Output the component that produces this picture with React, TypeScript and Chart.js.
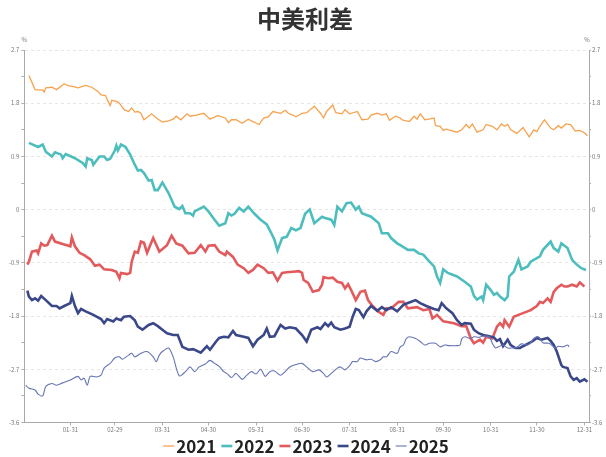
import React, { useEffect, useRef } from "react";
import { Chart, registerables } from "chart.js";

Chart.register(...registerables);

const TITLE = "中美利差";
const UNIT = "%";
const seriesNames = ["2021", "2022", "2023", "2024", "2025"];

// x positions are day-of-year indexes (leap-year calendar, 0 = 01-01)
const monthEndDays = [30, 59, 90, 120, 151, 181, 212, 243, 273, 304, 334, 365];
const monthEndLabels = ["01-31", "02-29", "03-31", "04-30", "05-31", "06-30", "07-31", "08-31", "09-30", "10-31", "11-30", "12-31"];

const yTickValues = [2.7, 2.25, 1.8, 1.35, 0.9, 0.45, 0, -0.45, -0.9, -1.35, -1.8, -2.25, -2.7, -3.15, -3.6];
const yTickLabels = ["2.7", "", "1.8", "", "0.9", "", "0", "", "-0.9", "", "-1.8", "", "-2.7", "", "-3.6"];

const days2021 = [3,7,12,13,14,18,21,26,28,32,35,40,44,48,50,53,54,56,57,60,62,65,68,70,72,74,76,78,83,86,90,94,97,99,102,106,108,112,117,121,126,131,133,135,138,142,146,148,153,156,159,162,167,170,172,175,177,181,184,189,193,195,197,201,203,207,209,212,217,220,224,226,230,233,236,238,242,245,246,249,251,254,256,258,261,267,268,271,273,275,282,285,288,290,292,295,299,301,305,308,311,313,315,317,321,325,329,332,334,336,339,343,345,348,350,353,356,359,362,365,367];
const vals2021 = [2.27,2.03,2.02,1.99,2.06,2.07,2.03,2.13,2.10,2.08,2.06,2.10,2.07,2.00,1.94,1.93,1.86,1.76,1.85,1.83,1.80,1.69,1.66,1.72,1.65,1.66,1.63,1.52,1.62,1.55,1.48,1.50,1.53,1.58,1.52,1.62,1.58,1.60,1.63,1.53,1.59,1.55,1.47,1.52,1.52,1.46,1.53,1.50,1.44,1.55,1.57,1.66,1.63,1.68,1.63,1.60,1.57,1.63,1.64,1.75,1.63,1.55,1.66,1.77,1.64,1.62,1.69,1.62,1.66,1.52,1.53,1.60,1.63,1.60,1.62,1.51,1.58,1.55,1.52,1.50,1.49,1.58,1.53,1.62,1.52,1.55,1.42,1.41,1.34,1.36,1.31,1.35,1.44,1.38,1.45,1.31,1.35,1.44,1.41,1.35,1.45,1.41,1.44,1.35,1.29,1.39,1.23,1.35,1.32,1.41,1.52,1.38,1.35,1.42,1.38,1.45,1.44,1.33,1.34,1.30,1.25];

const days2022 = [3,9,12,14,18,20,24,25,27,33,38,40,41,44,45,49,52,54,56,59,60,61,63,66,69,72,74,76,78,81,83,85,87,90,94,98,101,103,105,108,110,111,117,120,124,127,131,133,135,137,140,143,146,150,154,158,161,163,165,168,171,174,177,180,183,186,189,194,196,200,202,204,207,210,213,216,218,220,223,226,231,233,237,239,243,245,250,254,257,260,263,267,269,271,273,276,282,287,291,293,295,298,299,301,304,306,308,310,313,315,316,319,322,324,328,330,334,336,338,343,345,348,350,354,357,360,363,366];
const vals2022 = [1.13,1.06,1.10,0.98,0.90,0.97,0.93,0.87,0.94,0.87,0.79,0.73,0.87,0.84,0.76,0.90,0.90,0.84,0.86,1.00,1.08,1.00,1.10,1.06,0.93,0.76,0.66,0.67,0.62,0.49,0.50,0.33,0.33,0.46,0.28,0.05,0.01,0.06,-0.06,-0.06,-0.10,-0.03,0.05,-0.03,-0.17,-0.27,-0.23,-0.06,-0.10,-0.07,0.03,-0.03,0.05,-0.07,-0.17,-0.25,-0.40,-0.51,-0.69,-0.48,-0.46,-0.31,-0.35,-0.31,-0.07,0.00,-0.23,-0.12,-0.14,-0.17,-0.26,0.05,-0.03,0.11,0.12,0.00,0.05,-0.06,-0.09,-0.12,-0.23,-0.40,-0.40,-0.48,-0.57,-0.60,-0.68,-0.68,-0.74,-0.76,-0.85,-0.96,-1.13,-1.24,-1.01,-1.07,-1.13,-1.22,-1.30,-1.46,-1.52,-1.47,-1.53,-1.27,-1.36,-1.44,-1.41,-1.47,-1.53,-1.47,-1.13,-1.05,-0.85,-1.01,-0.96,-0.88,-0.82,-0.79,-0.68,-0.54,-0.65,-0.71,-0.57,-0.65,-0.85,-0.93,-0.99,-1.02];

const days2023 = [2,3,5,8,9,11,13,15,18,20,25,30,31,33,36,39,43,46,49,52,57,60,62,63,67,69,70,72,74,76,78,80,84,88,93,96,99,103,107,111,115,118,120,124,127,131,132,136,139,143,146,149,152,156,159,162,165,168,171,175,179,181,182,185,188,192,194,195,198,201,204,207,209,211,213,216,219,222,224,227,231,234,236,239,244,247,250,256,260,264,266,269,273,280,285,288,291,293,297,299,301,305,308,310,312,313,316,319,322,325,330,334,336,338,341,343,345,347,350,352,354,357,360,362,365];
const vals2023 = [-0.93,-0.88,-0.71,-0.69,-0.74,-0.57,-0.61,-0.60,-0.44,-0.54,-0.58,-0.62,-0.47,-0.62,-0.73,-0.77,-0.84,-0.95,-0.93,-1.01,-1.02,-1.05,-1.16,-1.07,-1.09,-1.07,-0.88,-0.71,-0.73,-0.54,-0.56,-0.73,-0.48,-0.71,-0.60,-0.44,-0.57,-0.61,-0.74,-0.73,-0.60,-0.71,-0.61,-0.60,-0.71,-0.77,-0.71,-0.80,-0.93,-0.99,-1.07,-1.02,-0.93,-0.99,-1.07,-1.06,-1.20,-1.07,-1.06,-1.05,-1.04,-1.07,-1.19,-1.24,-1.39,-1.36,-1.27,-1.14,-1.16,-1.15,-1.22,-1.24,-1.33,-1.26,-1.36,-1.53,-1.39,-1.37,-1.53,-1.63,-1.73,-1.78,-1.67,-1.67,-1.56,-1.56,-1.67,-1.65,-1.70,-1.68,-1.84,-1.78,-1.89,-1.92,-1.97,-1.97,-2.18,-2.26,-2.20,-2.25,-2.15,-2.18,-1.98,-1.92,-1.98,-1.87,-1.98,-1.81,-1.78,-1.75,-1.70,-1.63,-1.56,-1.58,-1.50,-1.56,-1.39,-1.33,-1.27,-1.30,-1.30,-1.27,-1.30,-1.23,-1.30];

const days2024 = [2,3,5,7,9,11,14,18,21,23,26,30,31,33,35,37,40,45,50,52,54,58,60,63,65,69,72,74,77,81,84,87,90,93,97,100,103,107,110,115,119,121,125,127,130,133,136,138,143,146,149,152,156,158,160,163,167,170,173,177,181,184,187,191,193,196,198,200,202,206,209,212,214,216,218,221,223,226,230,233,236,239,243,247,250,255,258,262,267,270,272,275,279,282,285,287,291,293,296,299,303,306,308,310,312,315,317,320,323,325,328,331,334,337,341,343,345,347,350,351,354,356,358,360,362,365,367];
const vals2024 = [-1.37,-1.47,-1.53,-1.50,-1.54,-1.46,-1.53,-1.63,-1.63,-1.67,-1.63,-1.58,-1.46,-1.63,-1.75,-1.68,-1.72,-1.78,-1.85,-1.92,-1.85,-1.89,-1.84,-1.87,-1.81,-1.80,-1.87,-1.98,-2.03,-1.95,-1.92,-1.97,-2.03,-2.09,-2.12,-2.12,-2.32,-2.37,-2.36,-2.42,-2.31,-2.37,-2.23,-2.17,-2.15,-2.16,-2.05,-2.12,-2.15,-2.17,-2.31,-2.20,-2.12,-2.01,-2.15,-2.14,-1.95,-2.01,-1.99,-2.01,-2.12,-2.23,-2.03,-1.99,-2.02,-1.92,-1.97,-1.91,-1.99,-2.03,-2.01,-1.98,-1.81,-1.68,-1.70,-1.82,-1.72,-1.63,-1.71,-1.65,-1.70,-1.65,-1.72,-1.61,-1.58,-1.53,-1.58,-1.63,-1.68,-1.70,-1.58,-1.67,-1.75,-1.87,-1.95,-1.92,-1.93,-2.03,-2.09,-2.12,-2.14,-2.16,-2.22,-2.19,-2.31,-2.20,-2.29,-2.34,-2.34,-2.31,-2.27,-2.23,-2.17,-2.20,-2.17,-2.22,-2.29,-2.40,-2.63,-2.66,-2.68,-2.82,-2.88,-2.85,-2.91,-2.87,-2.91];

const days2025 = [1,3,7,9,12,14,18,21,25,30,35,37,39,41,43,47,50,52,56,59,62,64,68,70,72,76,80,84,86,88,90,94,97,101,105,108,111,114,118,121,124,127,130,132,135,138,142,145,148,151,154,157,160,163,167,170,173,177,181,184,188,192,195,197,200,204,206,209,212,214,217,219,223,226,229,232,234,236,239,243,245,247,249,251,255,258,261,264,268,271,274,277,282,284,285,287,291,293,296,299,303,305,307,309,312,315,318,321,324,328,330,332,335,338,342,344,346,348,351,354,355];
const vals2025 = [-2.97,-3.02,-3.05,-3.12,-3.15,-2.99,-2.94,-2.97,-2.93,-2.88,-2.82,-2.88,-2.85,-2.97,-2.82,-2.83,-2.80,-2.68,-2.60,-2.51,-2.49,-2.53,-2.46,-2.43,-2.49,-2.43,-2.40,-2.49,-2.57,-2.46,-2.40,-2.34,-2.49,-2.81,-2.74,-2.66,-2.74,-2.66,-2.61,-2.55,-2.60,-2.65,-2.74,-2.77,-2.84,-2.77,-2.87,-2.80,-2.74,-2.78,-2.70,-2.82,-2.74,-2.73,-2.80,-2.74,-2.66,-2.62,-2.60,-2.66,-2.74,-2.71,-2.77,-2.83,-2.77,-2.68,-2.66,-2.71,-2.64,-2.57,-2.57,-2.51,-2.54,-2.53,-2.57,-2.54,-2.49,-2.49,-2.40,-2.43,-2.32,-2.29,-2.18,-2.15,-2.18,-2.23,-2.29,-2.26,-2.26,-2.32,-2.29,-2.30,-2.30,-2.29,-2.19,-2.15,-2.18,-2.15,-2.16,-2.14,-2.15,-2.26,-2.34,-2.32,-2.29,-2.34,-2.34,-2.33,-2.27,-2.29,-2.25,-2.18,-2.15,-2.25,-2.26,-2.30,-2.34,-2.31,-2.32,-2.29,-2.32];

const seriesDays = [days2021, days2022, days2023, days2024, days2025];
const seriesVals = [vals2021, vals2022, vals2023, vals2024, vals2025];

const COLORS = ["#f7a24d", "#4ebdbd", "#e25a5c", "#3a4889", "#6674b4"];
const WIDTHS = [1.3, 2.6, 2.6, 2.6, 1.1];
const TENSIONS = [0, 0, 0, 0, 0.3];

const FONT = "'Noto Sans CJK SC', 'Noto Sans', sans-serif";

function toPoints(d: number[], v: number[]) {
  const n = Math.min(d.length, v.length);
  const out: { x: number; y: number }[] = [];
  for (let i = 0; i < n; i++) out.push({ x: d[i], y: v[i] });
  return out;
}

const overlayPlugin = {
  id: "overlay",
  afterDraw(chart: any) {
    const ctx = chart.ctx as CanvasRenderingContext2D;
    const { left, right, top } = chart.chartArea;
    ctx.save();
    // title
    ctx.font = `bold 24px ${FONT}`;
    ctx.fillStyle = "#333";
    ctx.textAlign = "center";
    ctx.textBaseline = "middle";
    ctx.fillText(TITLE, 305, 19);
    // units
    ctx.font = `6px ${FONT}`;
    ctx.fillStyle = "#777";
    ctx.fillText(UNIT, left, top - 10);
    ctx.fillText(UNIT, right - 2, top - 10);
    // legend
    const ds = chart.data.datasets;
    ctx.font = `bold 17px ${FONT}`;
    const markerW = 11;
    const gap1 = 2;
    const gap2 = 5;
    const ws = ds.map((d: any) => markerW + gap1 + ctx.measureText(d.label).width);
    const total = ws.reduce((a: number, b: number) => a + b, 0) + gap2 * (ds.length - 1);
    let x = 306 - total / 2;
    const y = 446;
    ds.forEach((d: any, i: number) => {
      ctx.beginPath();
      ctx.strokeStyle = d.borderColor;
      ctx.lineWidth = d.borderWidth;
      ctx.moveTo(x, y);
      ctx.lineTo(x + markerW, y);
      ctx.stroke();
      ctx.fillStyle = "#222";
      ctx.textAlign = "left";
      ctx.textBaseline = "middle";
      ctx.fillText(d.label, x + markerW + gap1, y + 1);
      x += ws[i] + gap2;
    });
    ctx.restore();
  },
};

export default function App() {
  const ref = useRef<HTMLCanvasElement | null>(null);

  useEffect(() => {
    if (!ref.current) return;
    const datasets = seriesNames.map((name, i) => ({
      label: name,
      data: toPoints(seriesDays[i], seriesVals[i]),
      borderColor: COLORS[i],
      backgroundColor: COLORS[i],
      borderWidth: WIDTHS[i],
      pointRadius: 0,
      tension: TENSIONS[i],
      fill: false,
      order: seriesNames.length - i,
    }));

    const yCommon = (position: "left" | "right", width: number, isLeft: boolean) => ({
      type: "linear" as const,
      position,
      min: -3.6,
      max: 2.7,
      afterBuildTicks: (s: any) => {
        s.ticks = yTickValues.map((v) => ({ value: v }));
      },
      afterFit: (s: any) => {
        s.width = width;
      },
      ticks: {
        autoSkip: false,
        padding: isLeft ? 2 : 1,
        color: "#777",
        font: { size: 6, family: FONT },
        callback: (_v: any, idx: number) => yTickLabels[idx],
      },
      grid: {
        drawOnChartArea: isLeft,
        drawTicks: true,
        tickLength: isLeft ? 3 : 2,
        tickColor: "#b0b0b0",
        tickBorderDash: [],
        lineWidth: 1,
        color: (c: any) => {
          const idx = c.index;
          if (idx === undefined) return "transparent";
          if (yTickLabels[idx] === "" || idx === yTickValues.length - 1) return "transparent";
          return "#e6e6e6";
        },
      },
      border: { display: true, color: "#aaaaaa", width: 1, dash: [3, 3] },
    });

    const chart = new Chart(ref.current, {
      type: "line",
      data: { datasets },
      plugins: [overlayPlugin],
      options: {
        responsive: false,
        animation: false,
        events: [],
        devicePixelRatio: 1,
        layout: { padding: { top: 50, bottom: 20.5, left: 0, right: 0 } },
        plugins: {
          legend: { display: false },
          title: { display: false },
          tooltip: { enabled: false },
        },
        scales: {
          x: {
            type: "linear",
            min: 0,
            max: 368,
            afterBuildTicks: (s: any) => {
              s.ticks = monthEndDays.map((v) => ({ value: v }));
            },
            afterFit: (s: any) => {
              s.height = 14;
            },
            ticks: {
              autoSkip: false,
              maxRotation: 0,
              padding: 1,
              color: "#777",
              font: { size: 6, family: FONT },
              callback: (_v: any, idx: number) => monthEndLabels[idx],
            },
            grid: {
              drawOnChartArea: false,
              drawTicks: true,
              tickLength: 3,
              tickColor: "#b0b0b0",
            },
            border: { display: true, color: "#aaaaaa", width: 1 },
          },
          y: yCommon("left", 24.3, true) as any,
          y2: yCommon("right", 17, false) as any,
        },
      },
    });
    return () => chart.destroy();
  }, []);

  return (
    <div style={{ position: "absolute", left: 0, top: 0, width: 606, height: 457, background: "#fff" }}>
      <canvas ref={ref} width={606} height={457} style={{ display: "block", width: 606, height: 457 }} />
    </div>
  );
}
